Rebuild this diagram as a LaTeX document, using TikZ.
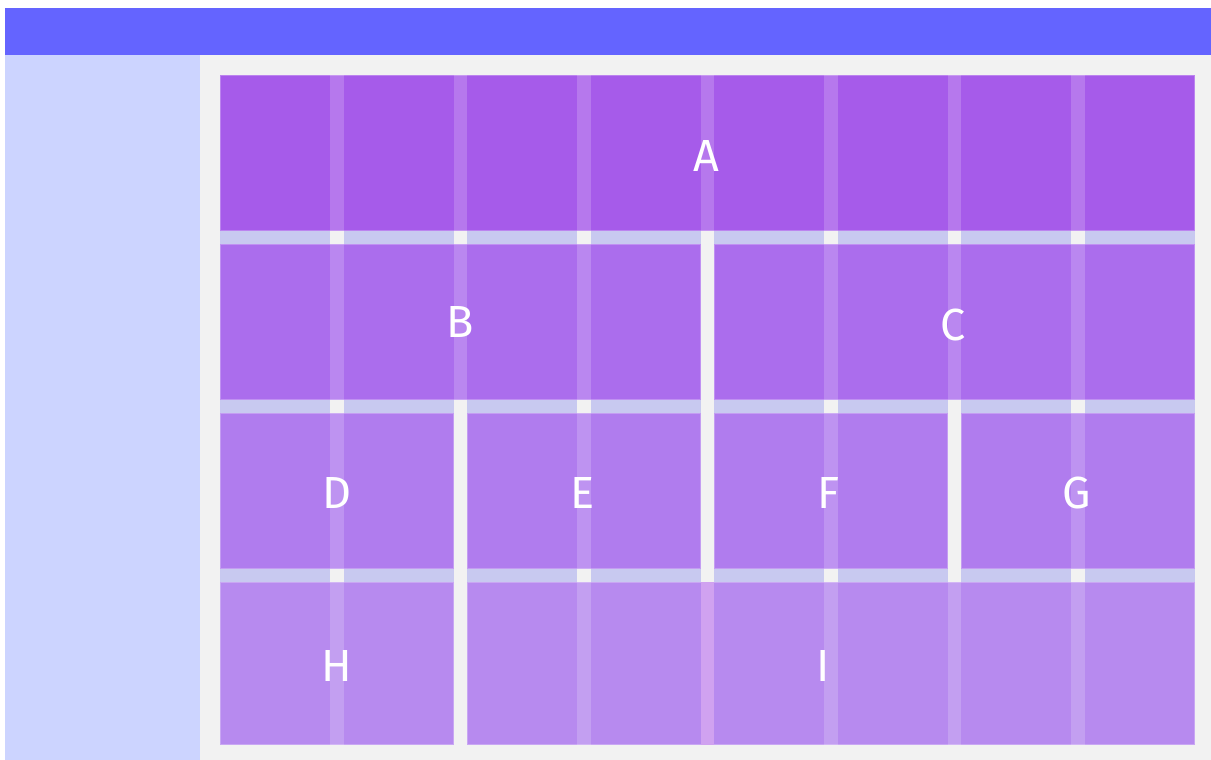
\documentclass[tikz,border=0pt]{standalone}
\usepackage{fontspec}
\setmainfont{Fira Sans}
\definecolor{hdr}{HTML}{6464FF}
\definecolor{side}{HTML}{CCD4FF}
\definecolor{mainbg}{HTML}{F2F2F2}
\definecolor{rowgap}{HTML}{C8C9F0}
\definecolor{rowA}{HTML}{A65BEA}
\definecolor{rowB}{HTML}{AB6DED}
\definecolor{rowC}{HTML}{B07CEE}
\definecolor{rowD}{HTML}{B78AEF}
\definecolor{midstripe}{HTML}{D0A2F0}
\tikzset{
  itembox/.style={draw=white!25!#1, line width=1pt},
  lbl/.style={text=white, font=\fontsize{45}{45}\selectfont, inner sep=0pt, anchor=center},
  stripe/.style={fill=white, fill opacity=0.18},
}
\begin{document}
\begin{tikzpicture}[x=1pt,y=-1pt]
\useasboundingbox (0,0) rectangle (1211,760);
\fill[white] (0,0) rectangle (1211,760);
% layout
\fill[hdr] (5,8) rectangle (1211,55);
\fill[side] (5,55) rectangle (200,760);
\fill[mainbg] (200,55) rectangle (1211,760);
% row gaps
\foreach \ya/\yb in {231/244, 400/413, 569/582}{
  \fill[rowgap] (220,\ya) rectangle (1195,\yb);
  \foreach \i in {1,...,7}{
    \pgfmathsetmacro\gx{220+\i*123.56-13.5}
    \fill[mainbg] (\gx,\ya) rectangle (\gx+13.5,\yb);
  }
}
% items
\fill[rowA, itembox=rowA] (220.5,75.5) rectangle (1194.5,230.5);
\fill[rowB, itembox=rowB] (220.5,244.5) rectangle (700.2,399.5);
\fill[rowB, itembox=rowB] (714.7,244.5) rectangle (1194.5,399.5);
\fill[rowC, itembox=rowC] (220.5,413.5) rectangle (453.1,568.5);
\fill[rowC, itembox=rowC] (467.6,413.5) rectangle (700.2,568.5);
\fill[rowC, itembox=rowC] (714.7,413.5) rectangle (947.3,568.5);
\fill[rowC, itembox=rowC] (961.8,413.5) rectangle (1194.5,568.5);
\fill[rowD, itembox=rowD] (220.5,582.5) rectangle (453.1,744.5);
\fill[rowD, itembox=rowD] (467.6,582.5) rectangle (1194.5,744.5);
% column stripes over items
\foreach \ya/\yb/\cols in {75/231/{1,2,3,4,5,6,7}, 244/400/{1,2,3,5,6,7}, 413/569/{1,3,5,7}, 582/745/{1,3,5,6,7}}{
  \foreach \i in \cols{
    \pgfmathsetmacro\gx{220+\i*123.56-13.5}
    \fill[stripe] (\gx,\ya) rectangle (\gx+13.5,\yb);
  }
}
\fill[midstripe] (700.7,582) rectangle (714.2,745);
% labels
\node[lbl] (A) at (706,156) {A};
\node[lbl] (B) at (460,322) {B};
\node[lbl] (C) at (953,325) {C};
\node[lbl] (D) at (337,493) {D};
\node[lbl] (E) at (583,493) {E};
\node[lbl] (F) at (829,493) {F};
\node[lbl] (G) at (1077,493) {G};
\node[lbl] (H) at (337,666) {H};
\node[lbl] (I) at (823,666) {I};
\end{tikzpicture}
\end{document}
